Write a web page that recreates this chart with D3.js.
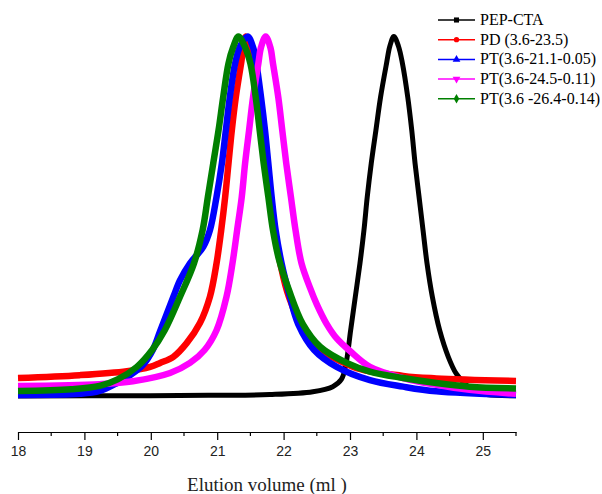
<!DOCTYPE html>
<html>
<head>
<meta charset="utf-8">
<script src="https://cdn.jsdelivr.net/npm/d3@7"></script>
<style>
  body { margin: 0; background: #fff; }
  svg { display: block; }
</style>
</head>
<body>
<div id="chart"></div>
<script>
// series names as in the legend
var names = ["PEP-CTA", "PD (3.6-23.5)", "PT(3.6-21.1-0.05)", "PT(3.6-24.5-0.11)", "PT(3.6 -26.4-0.14)"];
var colors = ["#000000", "#ff0000", "#0000ff", "#ff00ff", "#008000"];
var symbols = [d3.symbolSquare, d3.symbolCircle, d3.symbolTriangle, d3.symbolTriangle, d3.symbolDiamond];

// elution volume (ml), normalised signal (%)
var pepCta = [[18,0],[19.99,0.1],[21.0,0.2],[21.79,0.4],[22.44,1.2],[22.74,2.6],[22.87,4.6],[22.94,9.0],
  [23.01,18.3],[23.08,27.6],[23.15,36.9],[23.21,46.1],[23.26,55.4],[23.32,64.7],[23.39,73.9],[23.46,83.1],
  [23.55,92.5],[23.60,97.3],[23.66,100],[23.73,97.3],[23.79,92.5],[23.87,83.1],[23.93,73.9],[23.98,64.7],
  [24.04,55.4],[24.10,46.1],[24.16,36.9],[24.24,27.6],[24.35,18.3],[24.48,10.9],[24.60,6.2],[24.72,3.6],
  [24.85,1.6],[25.06,0.4],[25.5,0.1]];
var pd = [[18,5.0],[18.93,5.8],[19.64,6.9],[19.99,8.1],[20.14,9.2],[20.34,10.9],[20.54,14.7],[20.74,20.3],
  [20.89,27.6],[20.99,36.9],[21.06,46.1],[21.12,55.4],[21.17,64.7],[21.22,73.9],[21.28,83.1],[21.36,92.5],
  [21.43,100],[21.51,96.5],[21.55,92.5],[21.62,83.1],[21.68,73.9],[21.73,64.7],[21.79,55.4],[21.86,46.1],
  [21.95,36.9],[22.08,27.6],[22.40,15.6],[23.05,8.1],[23.80,5.6],[24.30,4.9],[25.5,4.2]];
var pt1 = [[18,0.3],[18.93,0.6],[19.23,1.4],[19.49,3.6],[19.69,5.8],[19.88,8.6],[20.03,12.8],[20.14,18.0],
  [20.34,27.6],[20.44,32.2],[20.59,36.9],[20.79,41.5],[20.89,46.1],[20.99,55.4],[21.07,64.7],[21.13,73.9],
  [21.19,83.1],[21.27,92.5],[21.35,97.5],[21.46,100],[21.54,97],[21.59,92.5],[21.66,83.1],[21.72,73.9],
  [21.77,64.7],[21.82,55.4],[21.88,46.1],[21.97,36.9],[22.09,28],[22.22,20],[22.46,12.8],[22.80,8.1],
  [23.30,4.4],[23.80,2.6],[24.30,1.3],[25.5,0.3]];
var pt2 = [[18,2.8],[19.23,3.3],[19.73,4.1],[20.29,6.4],[20.59,9.2],[20.81,12.8],[20.99,18.3],[21.14,27.6],
  [21.23,36.9],[21.30,46.1],[21.37,55.4],[21.42,64.7],[21.48,73.9],[21.54,83.1],[21.62,92.5],[21.66,97],
  [21.73,100],[21.80,97],[21.84,92.5],[21.92,83.1],[21.98,73.9],[22.04,64.7],[22.11,55.4],[22.18,46.1],
  [22.27,36.9],[22.40,30],[22.50,25.5],[22.65,20],[22.80,16],[23.0,12.5],[23.30,8.1],[23.80,5.0],[24.30,3.1],
  [24.80,1.7],[25.5,0.6]];
var pt3 = [[18,1.4],[18.8,1.9],[19.23,2.8],[19.50,4.6],[19.79,8.1],[20.02,12.8],[20.21,18.3],[20.44,27.6],
  [20.65,36.9],[20.78,46.1],[20.86,55.4],[20.94,64.7],[21.02,73.9],[21.09,83.1],[21.17,92.5],[21.24,97],
  [21.32,100],[21.42,97],[21.50,92.5],[21.58,83.1],[21.64,73.9],[21.70,64.7],[21.77,55.4],[21.84,46.1],
  [21.93,38],[22.08,29.5],[22.29,20],[22.55,13.7],[22.95,9.2],[23.30,6.8],[23.80,5.0],[24.30,3.6],
  [24.80,2.6],[25.5,2.1]];
var seriesData = [pepCta, pd, pt1, pt2, pt3];

var xTicks = [18, 19, 20, 21, 22, 23, 24, 25];
var xMinor = [18.5, 19.5, 20.5, 21.5, 22.5, 23.5, 24.5, 25.5];
var xTitle = "Elution volume (ml )";

var width = 602, height = 494;
var svg = d3.select("#chart").append("svg")
    .attr("width", width)
    .attr("height", height);

var x = d3.scaleLinear().domain([18, 25.5]).range([18, 516]);
var y = d3.scaleLinear().domain([0, 100]).range([396, 36.5]);
var axisY = 432;

var line = d3.line()
    .x(function (d) { return x(d[0]); })
    .y(function (d) { return y(d[1]); })
    .curve(d3.curveCatmullRom.alpha(0.5));

// curves, drawn in legend order so green ends on top
seriesData.forEach(function (s, i) {
    svg.append("path")
        .datum(s)
        .attr("d", line)
        .attr("fill", "none")
        .attr("stroke", colors[i])
        .attr("stroke-width", i == 0 ? 5 : 6.5)
        .attr("stroke-linejoin", "round");
});

// x axis
var xAxis = svg.append("g")
    .attr("transform", "translate(0," + axisY + ")")
    .call(d3.axisBottom(x).tickValues(xTicks).tickSize(8).tickSizeOuter(0).tickPadding(6));
xAxis.select(".domain").attr("stroke", "#000").attr("stroke-width", 1.2);
xAxis.selectAll(".tick line").attr("stroke", "#000").attr("stroke-width", 1.2);
xAxis.selectAll(".tick text")
    .attr("font-family", "'Liberation Sans', Arial, sans-serif")
    .attr("font-size", 14)
    .attr("fill", "#222");

svg.append("g").selectAll("line").data(xMinor).enter().append("line")
    .attr("x1", function (d) { return x(d); })
    .attr("x2", function (d) { return x(d); })
    .attr("y1", axisY)
    .attr("y2", axisY + 4)
    .attr("stroke", "#000")
    .attr("stroke-width", 1.2);

svg.append("text")
    .attr("x", x(21.75))
    .attr("y", 491)
    .attr("text-anchor", "middle")
    .attr("font-family", "'Liberation Serif', 'Times New Roman', serif")
    .attr("font-size", 19)
    .attr("fill", "#222")
    .text(xTitle);

// legend
var legend = svg.append("g").attr("transform", "translate(438,20)");
var rows = legend.selectAll("g").data(names).enter().append("g")
    .attr("transform", function (d, i) { return "translate(0," + (i * 19.7) + ")"; });
rows.append("line")
    .attr("x1", 0).attr("x2", 37)
    .attr("stroke", function (d, i) { return colors[i]; })
    .attr("stroke-width", 1.5);
rows.append("path")
    .attr("transform", function (d, i) { return "translate(18.5,0)" + (i == 3 ? " rotate(180)" : ""); })
    .attr("d", function (d, i) { return d3.symbol().type(symbols[i]).size(i == 1 ? 22 : 26)(); })
    .attr("fill", function (d, i) { return colors[i]; });
rows.append("text")
    .attr("x", 42)
    .attr("y", 5)
    .attr("font-family", "'Liberation Serif', 'Times New Roman', serif")
    .attr("font-size", 16)
    .attr("fill", "#000")
    .text(function (d) { return d; });
</script>
</body>
</html>
